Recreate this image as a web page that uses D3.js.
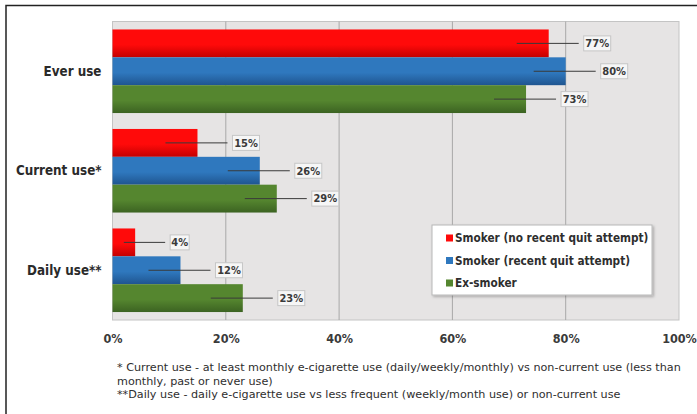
<!DOCTYPE html>
<html>
<head>
<meta charset="utf-8">
<script src="https://cdn.jsdelivr.net/npm/d3@7"></script>
<style>
  body { margin: 0; background: #fff; }
  svg { display: block; font-family: "DejaVu Sans Condensed", "DejaVu Sans", sans-serif; }
</style>
</head>
<body>
<svg id="chart" width="697" height="414"></svg>
<script>
// chart values
const categories = ["Ever use", "Current use*", "Daily use**"];
const seriesNames = ["Smoker (no recent quit attempt)", "Smoker (recent quit attempt)", "Ex-smoker"];
const noRecentQuit = [77, 15, 4];
const recentQuit = [80, 26, 12];
const exSmoker = [73, 29, 23];
const xTicks = [0, 20, 40, 60, 80, 100];
const footnotes = [
  "* Current use - at least monthly e-cigarette use (daily/weekly/monthly) vs non-current use (less than",
  "monthly, past or never use)",
  "**Daily use - daily e-cigarette use vs less frequent (weekly/month use) or non-current use"
];

const seriesValues = [noRecentQuit, recentQuit, exSmoker];
const colors = [["#ff0a0a", "#c40000"], ["#2f78be", "#1f5590"], ["#55862f", "#3c6322"]];

const svg = d3.select("#chart");
const plot = {left: 112.5, right: 679, top: 21.5, bottom: 320};

// outer frame (only top and left edges are in view)
svg.append("path")
  .attr("d", "M6,420V5.5H700")
  .attr("fill", "none")
  .attr("stroke", "#222")
  .attr("stroke-width", 1.5);

const x = d3.scaleLinear().domain([0, 100]).range([plot.left, plot.right]);
const y = d3.scaleBand().domain(categories).range([plot.top, plot.bottom])
  .paddingInner(0.16).paddingOuter(0.08);
const ySub = d3.scaleBand().domain(d3.range(seriesNames.length)).range([0, y.bandwidth()]);

// gradients for bars
const defs = svg.append("defs");
colors.forEach((c, i) => {
  const g = defs.append("linearGradient").attr("id", "g" + i)
    .attr("x1", 0).attr("x2", 0).attr("y1", 0).attr("y2", 1);
  g.append("stop").attr("offset", "0%").attr("stop-color", c[0]);
  g.append("stop").attr("offset", "55%").attr("stop-color", c[0]);
  g.append("stop").attr("offset", "100%").attr("stop-color", c[1]);
});
const shadow = defs.append("filter").attr("id", "shadow")
  .attr("x", "-10%").attr("y", "-10%").attr("width", "130%").attr("height", "140%");
shadow.append("feDropShadow").attr("dx", 1.5).attr("dy", 1.5).attr("stdDeviation", 1.2)
  .attr("flood-color", "#000").attr("flood-opacity", 0.25);

// plot background
svg.append("rect")
  .attr("x", plot.left).attr("y", plot.top)
  .attr("width", plot.right - plot.left).attr("height", plot.bottom - plot.top)
  .attr("fill", "#e6e4e4")
  .attr("stroke", "#c4c4c4");

// grid
svg.append("g").selectAll("line")
  .data(xTicks.slice(1, -1))
  .join("line")
  .attr("x1", d => x(d)).attr("x2", d => x(d))
  .attr("y1", plot.top).attr("y2", plot.bottom)
  .attr("stroke", "#a8a8a8");

// x axis labels
const xAxis = svg.append("g")
  .attr("transform", `translate(0,${plot.bottom + 11})`)
  .call(d3.axisBottom(x).tickValues(xTicks).tickFormat(d => d + "%").tickSize(0));
xAxis.select(".domain").remove();
xAxis.selectAll("text")
  .attr("dy", "0.71em")
  .attr("font-size", 12.5)
  .attr("font-weight", "bold")
  .attr("font-family", "DejaVu Sans Condensed, DejaVu Sans, sans-serif")
  .attr("fill", "#3a3a3a");

// category labels
const yAxis = svg.append("g")
  .attr("transform", `translate(${plot.left - 8},0)`)
  .call(d3.axisLeft(y).tickSize(0));
yAxis.select(".domain").remove();
yAxis.selectAll("text")
  .attr("font-size", 13.3)
  .attr("font-weight", "bold")
  .attr("font-family", "DejaVu Sans Condensed, DejaVu Sans, sans-serif")
  .attr("fill", "#2a2a2a");

// bars
const rows = [];
categories.forEach((cat, ci) => {
  seriesValues.forEach((vals, si) => {
    rows.push({cat: cat, s: si, v: vals[ci]});
  });
});

svg.append("g").selectAll("rect")
  .data(rows)
  .join("rect")
  .attr("x", x(0))
  .attr("y", d => y(d.cat) + ySub(d.s))
  .attr("width", d => x(d.v) - x(0))
  .attr("height", ySub.bandwidth())
  .attr("fill", d => `url(#g${d.s})`);

// leader lines and value labels
const labels = svg.append("g");
rows.forEach(d => {
  const end = x(d.v);
  const cy = y(d.cat) + ySub(d.s) + ySub.bandwidth() / 2;
  const start = end - Math.min(32, (end - x(0)) / 2);
  labels.append("line")
    .attr("x1", start).attr("x2", end + 30)
    .attr("y1", cy).attr("y2", cy)
    .attr("stroke", "#3a3a3a")
    .attr("stroke-width", 1);
  const t = d.v + "%";
  const w = t.length > 2 ? 27 : 19;
  labels.append("rect")
    .attr("x", end + 35).attr("y", cy - 7.5)
    .attr("width", w).attr("height", 15)
    .attr("fill", "#f6f6f6")
    .attr("stroke", "#c6c6c6");
  labels.append("text")
    .attr("x", end + 35 + w / 2).attr("y", cy)
    .attr("dy", "0.35em")
    .attr("text-anchor", "middle")
    .attr("font-size", 11)
    .attr("font-weight", "bold")
    .attr("fill", "#3a3a3a")
    .text(t);
});

// legend
const legend = svg.append("g").attr("transform", "translate(432,225)");
legend.append("rect")
  .attr("width", 220).attr("height", 70)
  .attr("fill", "#fff")
  .attr("stroke", "#b8b8b8")
  .attr("filter", "url(#shadow)");
seriesNames.forEach((name, i) => {
  const row = legend.append("g").attr("transform", `translate(14,${13 + i * 22.5})`);
  row.append("rect")
    .attr("x", 0).attr("y", -3.5)
    .attr("width", 7).attr("height", 7)
    .attr("fill", colors[i][0]);
  row.append("text")
    .attr("x", 9).attr("dy", "0.35em")
    .attr("font-size", 11.7)
    .attr("font-weight", "bold")
    .attr("fill", "#2e2e2e")
    .text(name);
});

// footnotes
svg.append("g").selectAll("text")
  .data(footnotes)
  .join("text")
  .attr("x", 117)
  .attr("y", (d, i) => 371 + i * 13.5)
  .attr("font-family", "DejaVu Sans, sans-serif")
  .attr("font-size", 11.2)
  .attr("fill", "#2e2e2e")
  .text(d => d);
</script>
</body>
</html>
